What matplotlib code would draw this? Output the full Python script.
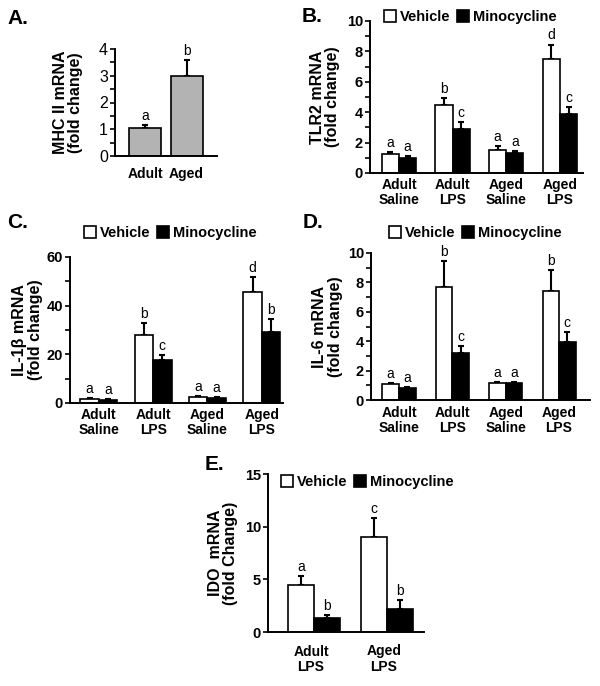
import matplotlib
matplotlib.use("Agg")
import matplotlib.pyplot as plt
import numpy as np
from matplotlib.patches import Patch
from matplotlib.ticker import MultipleLocator

plt.rcParams['font.family'] = ['Liberation Sans', 'DejaVu Sans']

W, H = 600, 686

# ---------------- data ----------------
a_cats = ["Adult", "Aged"]
a_vals = [1.05, 3.0]
a_err = [0.10, 0.60]
a_letters = ["a", "b"]

groups4 = ["Adult\nSaline", "Adult\nLPS", "Aged\nSaline", "Aged\nLPS"]

b_veh = [1.25, 4.5, 1.5, 7.5]
b_veh_err = [0.12, 0.45, 0.25, 0.95]
b_min = [1.0, 2.92, 1.32, 3.87]
b_min_err = [0.10, 0.45, 0.10, 0.45]
b_veh_let = ["a", "b", "a", "d"]
b_min_let = ["a", "c", "a", "c"]

c_veh = [1.8, 27.8, 2.5, 45.8]
c_veh_err = [0.4, 5.1, 0.3, 5.9]
c_min = [1.4, 17.6, 2.1, 29.0]
c_min_err = [0.3, 2.0, 0.3, 5.5]
c_veh_let = ["a", "b", "a", "d"]
c_min_let = ["a", "c", "a", "b"]

d_veh = [1.07, 7.68, 1.14, 7.39]
d_veh_err = [0.07, 1.75, 0.11, 1.43]
d_min = [0.80, 3.23, 1.14, 3.93]
d_min_err = [0.11, 0.45, 0.11, 0.68]
d_veh_let = ["a", "b", "a", "b"]
d_min_let = ["a", "c", "a", "c"]

e_groups = ["Adult\nLPS", "Aged\nLPS"]
e_veh = [4.5, 8.98]
e_veh_err = [0.8, 1.88]
e_min = [1.33, 2.22]
e_min_err = [0.26, 0.83]
e_veh_let = ["a", "c"]
e_min_let = ["b", "b"]

fig = plt.figure(figsize=(W / 100, H / 100), dpi=100)


def add_axes_px(x0, y0, x1, y1):
    return fig.add_axes([x0 / W, 1 - y1 / H, (x1 - x0) / W, (y1 - y0) / H])


def style_axes(ax, ymax, major, minor, tick_bold=True, tick_size=10.5):
    for s in ["top", "right"]:
        ax.spines[s].set_visible(False)
    for s in ["left", "bottom"]:
        ax.spines[s].set_linewidth(1.4)
    ax.set_ylim(0, ymax)
    ticks = np.arange(0, ymax + major / 2, major)
    ax.set_yticks(ticks, [f"{t:g}" for t in ticks],
                  fontweight="bold" if tick_bold else "normal",
                  fontsize=tick_size)
    if minor:
        ax.yaxis.set_minor_locator(MultipleLocator(minor))
    ax.tick_params(axis="x", length=0)
    ax.tick_params(axis="y", which="both", direction="out", width=1.2,
                   length=3.5, pad=1.5)


def bars_with_err(ax, x, vals, errs, letters, color, width):
    ax.bar(x, vals, width=width, color=color, edgecolor="black",
           linewidth=1.2, zorder=2)
    ax.errorbar(x, vals, yerr=[np.zeros(len(vals)), errs], fmt="none",
                ecolor="black", elinewidth=1.5, capsize=2.5, capthick=1.5,
                zorder=1)
    for xi, v, e, l in zip(x, vals, errs, letters):
        ax.annotate(l, (xi, v + e), xytext=(0, 1.5), textcoords="offset points",
                    ha="center", va="bottom", fontsize=10)


def legend(ax, cx, cy):
    handles = [Patch(facecolor="white", edgecolor="black", linewidth=1.2),
               Patch(facecolor="black", edgecolor="black", linewidth=1.2)]
    ax.legend(handles, ["Vehicle", "Minocycline"], ncol=2, loc="center",
              bbox_to_anchor=(cx / W, 1 - cy / H),
              bbox_transform=fig.transFigure, frameon=False,
              handlelength=0.85, handleheight=0.85, handletextpad=0.25,
              columnspacing=0.45, borderpad=0,
              prop={"weight": "bold", "size": 10.5})


# ---------------- Panel A ----------------
axA = add_axes_px(115, 49, 217, 156)
xa = np.arange(len(a_cats))
bars_with_err(axA, xa, a_vals, a_err, a_letters, "#b3b3b3", 0.78)
axA.set_xlim(-0.74, 1.74)
axA.set_xticks(xa)
axA.set_xticklabels(a_cats, fontweight="bold", fontsize=10)
axA.tick_params(axis="x", pad=8)
style_axes(axA, 4, 1, 0.5, tick_bold=False, tick_size=11.5)
axA.set_ylabel("MHC II mRNA\n(fold change)", fontweight="bold", fontsize=11.5,
               linespacing=1.05)
axA.yaxis.set_label_coords(-0.31, 0.5)


def panel4(box, veh, veh_err, mino, mino_err, vlet, mlet, ymax, major, minor,
           xlim, ylabel, lab_x, xpad, bw):
    ax = add_axes_px(*box)
    x = np.arange(len(groups4))
    bars_with_err(ax, x - bw / 2, veh, veh_err, vlet, "white", bw)
    bars_with_err(ax, x + bw / 2, mino, mino_err, mlet, "black", bw)
    ax.set_xlim(*xlim)
    ax.set_xticks(x)
    ax.set_xticklabels(groups4, fontweight="bold", fontsize=10,
                       linespacing=1.1)
    ax.tick_params(axis="x", pad=xpad)
    style_axes(ax, ymax, major, minor)
    ax.set_ylabel(ylabel, fontweight="bold", fontsize=11.5, linespacing=1.05)
    ax.yaxis.set_label_coords(lab_x, 0.5)
    return ax


axB = panel4((370, 21, 583, 173), b_veh, b_veh_err, b_min, b_min_err,
             b_veh_let, b_min_let, 10, 2, 1, (-0.54, 3.43),
             "TLR2 mRNA\n(fold change)", -0.14, 3.5, 0.32)
legend(axB, 470, 17)

axC = panel4((70, 257, 283, 403), c_veh, c_veh_err, c_min, c_min_err,
             c_veh_let, c_min_let, 60, 20, 10, (-0.53, 3.39),
             "IL-1\u03b2 mRNA\n(fold change)", -0.127, 3.5, 0.34)
legend(axC, 170, 233)

axD = panel4((371, 253, 590, 400), d_veh, d_veh_err, d_min, d_min_err,
             d_veh_let, d_min_let, 10, 2, 1, (-0.525, 3.58),
             "IL-6 mRNA\n(fold change)", -0.128, 4.5, 0.31)
legend(axD, 475, 233)

# ---------------- Panel E ----------------
axE = add_axes_px(268, 474, 424, 632)
xe = np.arange(len(e_groups))
bwE = 0.36
bars_with_err(axE, xe - bwE / 2, e_veh, e_veh_err, e_veh_let, "white", bwE)
bars_with_err(axE, xe + bwE / 2, e_min, e_min_err, e_min_let, "black", bwE)
axE.set_xlim(-0.63, 1.51)
axE.set_xticks(xe - 0.04)
axE.set_xticklabels(e_groups, fontweight="bold", fontsize=10, linespacing=1.1)
axE.tick_params(axis="x", pad=9)
style_axes(axE, 15, 5, None)
axE.set_ylabel("IDO  mRNA\n(fold Change)", fontweight="bold", fontsize=11.5,
               linespacing=1.05)
axE.yaxis.set_label_coords(-0.19, 0.5)
legend(axE, 367, 482)

# ---------------- panel letters ----------------
for t, x, y in [("A.", 7, 18), ("B.", 302, 17), ("C.", 7, 222),
                ("D.", 303, 222), ("E.", 205, 464)]:
    fig.text(x / W, 1 - y / H, t, fontsize=15, fontweight="bold",
             ha="left", va="center")

fig.savefig("out.png", dpi=100)
